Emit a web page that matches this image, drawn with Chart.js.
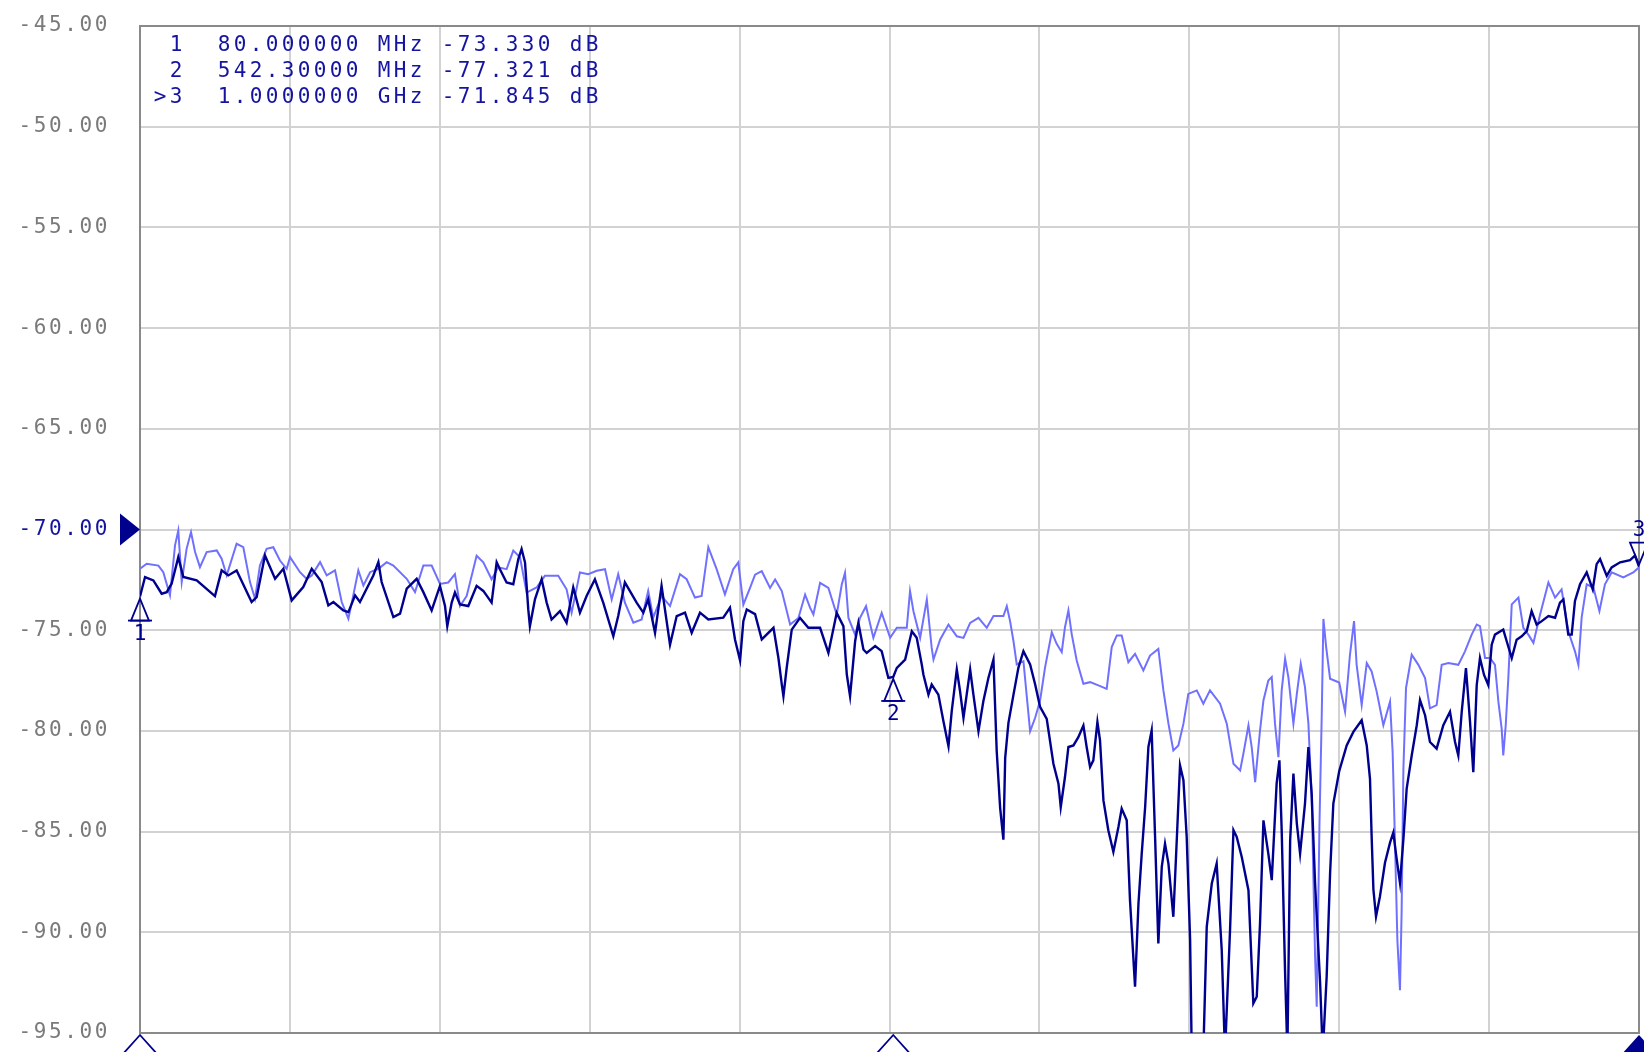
<!DOCTYPE html>
<html>
<head>
<meta charset="utf-8">
<script src="https://cdn.jsdelivr.net/npm/chart.js@4.4.1/dist/chart.umd.min.js"></script>
<style>
  html, body { margin: 0; padding: 0; background: #fff; }
  canvas { display: block; }
</style>
</head>
<body>
<canvas id="trace_chart" width="1644" height="1052"></canvas>
<script>
// Sweep 80 MHz .. 1 GHz, values in dB
const startMHz = 80;
const stopMHz = 1000;
const divisions = 10;
const refLevel = -70;

const darkFreq = [80.0, 83.1, 88.2, 93.3, 96.4, 99.4, 103.5, 106.6, 114.8, 126.0, 130.1, 134.2, 139.3, 148.5, 151.6, 156.7, 162.9, 168.0, 173.1, 180.2,
  185.4, 191.5, 195.6, 198.7, 204.8, 207.9, 212.0, 215.0, 219.1, 223.2, 226.3, 228.3, 235.5, 239.6, 243.7, 249.8, 253.9, 259.0, 264.1, 267.2,
  268.6, 271.3, 273.3, 276.4, 281.5, 286.6, 290.7, 295.8, 298.9, 300.9, 305.0, 309.1, 312.2, 314.2, 316.3, 318.3, 319.3, 322.4, 326.5, 329.6,
  332.6, 337.8, 341.8, 345.9, 350.0, 354.1, 359.2, 364.3, 370.5, 373.5, 377.6, 384.8, 388.9, 391.9, 396.1, 400.1, 405.3, 409.4, 414.5, 418.6,
  423.7, 428.8, 438.0, 442.1, 445.2, 448.3, 450.3, 452.4, 457.5, 461.6, 468.8, 471.8, 473.9, 474.9, 476.9, 480.0, 485.1, 490.2, 497.4, 502.5,
  507.6, 511.7, 513.8, 515.8, 518.9, 520.9, 524.0, 526.0, 531.2, 535.2, 539.3, 542.3, 544.5, 549.6, 553.7, 556.7, 559.8, 560.8, 563.9, 565.9,
  570.0, 573.1, 576.2, 578.2, 581.3, 583.3, 585.4, 589.5, 591.5, 594.6, 597.6, 600.7, 603.8, 605.8, 607.9, 609.9, 611.0, 613.0, 616.1, 619.1,
  622.2, 626.3, 629.4, 632.4, 636.5, 640.6, 643.7, 645.1, 647.7, 649.8, 652.9, 655.9, 659.0, 661.0, 663.1, 665.1, 667.6, 669.2, 671.3, 674.3,
  677.4, 680.5, 682.5, 685.6, 687.6, 690.7, 692.8, 694.8, 696.9, 698.9, 700.9, 703.0, 705.0, 707.1, 709.1, 711.2, 714.2, 716.3, 718.3, 720.4,
  722.4, 724.5, 725.5, 732.6, 734.7, 737.8, 740.8, 743.9, 745.9, 749.0, 751.1, 753.1, 756.2, 760.3, 763.3, 765.4, 767.4, 769.5, 772.5, 774.6,
  777.6, 779.3, 780.7, 782.8, 784.2, 785.9, 787.9, 790.0, 792.0, 795.0, 797.1, 799.1, 801.2, 804.3, 805.9, 808.3, 810.4, 812.4, 816.0, 820.6,
  824.7, 829.8, 832.9, 834.9, 835.9, 837.0, 838.6, 841.0, 844.1, 847.2, 849.2, 851.3, 853.3, 855.4, 857.4, 860.5, 863.6, 865.6, 868.7, 871.7,
  875.8, 879.9, 884.0, 887.1, 889.1, 891.2, 893.8, 896.3, 898.3, 900.4, 902.4, 904.9, 907.5, 909.6, 911.6, 916.7, 918.8, 921.9, 924.9, 928.0,
  931.1, 934.1, 937.2, 940.3, 944.4, 948.5, 951.5, 953.6, 956.6, 958.7, 960.7, 963.8, 967.9, 971.6, 974.0, 976.1, 980.2, 983.2, 988.4, 994.5,
  997.5, 1000.0];
const darkDb = [-73.33, -72.36, -72.53, -73.19, -73.11, -72.69, -71.37, -72.36, -72.53, -73.31, -72.03, -72.28, -72.03, -73.60, -73.36, -71.29, -72.45, -71.95, -73.52, -72.86,
  -71.95, -72.61, -73.77, -73.60, -74.02, -74.10, -73.27, -73.60, -72.94, -72.28, -71.62, -72.61, -74.35, -74.18, -72.94, -72.45, -73.11, -74.02, -72.80, -73.80,
  -74.80, -73.63, -73.13, -73.72, -73.80, -72.80, -73.05, -73.63, -71.63, -71.97, -72.63, -72.72, -71.47, -70.97, -71.63, -73.97, -74.80, -73.47, -72.47, -73.63,
  -74.47, -74.05, -74.63, -72.88, -74.13, -73.30, -72.47, -73.63, -75.30, -74.30, -72.63, -73.63, -74.13, -73.47, -75.13, -72.80, -75.72, -74.30, -74.13, -75.13,
  -74.13, -74.47, -74.38, -73.88, -75.47, -76.50, -74.55, -73.97, -74.20, -75.46, -74.88, -76.37, -77.70, -78.28, -76.87, -74.97, -74.39, -74.88, -74.88, -76.13,
  -74.14, -74.80, -77.20, -78.28, -75.55, -74.64, -75.96, -76.13, -75.79, -76.04, -77.37, -77.32, -76.87, -76.46, -75.05, -75.38, -76.70, -77.20, -78.20, -77.70,
  -78.20, -79.52, -80.76, -79.02, -76.95, -78.03, -79.35, -76.95, -78.20, -80.02, -78.53, -77.37, -76.46, -81.00, -83.82, -85.40, -81.34, -79.60, -78.20, -76.87,
  -76.04, -76.70, -77.70, -78.80, -79.40, -81.63, -82.62, -83.78, -82.29, -80.80, -80.72, -80.31, -79.73, -80.80, -81.79, -81.46, -79.56, -80.47, -83.45, -84.93,
  -86.01, -84.77, -83.86, -84.44, -88.40, -92.70, -88.57, -86.09, -83.78, -80.80, -79.98, -85.26, -90.55, -86.75, -85.60, -86.59, -89.23, -85.43, -81.71, -82.45,
  -85.26, -90.39, -96.00, -96.00, -89.73, -87.58, -86.59, -90.88, -96.00, -89.90, -84.93, -85.26, -86.26, -87.91, -93.53, -93.20, -89.56, -84.44, -86.09, -87.41,
  -82.62, -81.46, -84.93, -92.04, -96.00, -85.43, -82.12, -84.60, -86.09, -83.61, -80.80, -83.12, -87.58, -92.54, -96.00, -92.21, -87.08, -83.61, -82.00, -80.72,
  -80.05, -79.47, -80.72, -82.38, -85.22, -87.88, -89.22, -88.22, -86.55, -85.55, -85.05, -86.38, -87.55, -85.38, -82.88, -81.22, -79.72, -78.47, -79.22, -80.55,
  -80.88, -79.72, -79.05, -80.55, -81.22, -79.05, -76.88, -79.55, -82.05, -77.72, -76.38, -77.22, -77.72, -75.72, -75.22, -74.97, -75.55, -76.38, -75.47, -75.30,
  -75.05, -74.05, -74.72, -74.55, -74.30, -74.38, -73.63, -73.47, -75.22, -75.22, -73.55, -72.72, -72.13, -72.97, -71.72, -71.47, -72.30, -71.88, -71.63, -71.52,
  -71.30, -71.845];

const lightFreq = [80.0, 84.1, 91.3, 94.3, 98.4, 101.5, 103.5, 105.6, 108.6, 111.3, 113.8, 116.8, 120.9, 127.1, 130.1, 133.2, 139.3, 143.4, 147.5, 150.6,
  153.6, 157.7, 161.8, 165.9, 170.0, 172.1, 178.2, 182.3, 185.4, 190.5, 194.6, 199.7, 203.8, 207.9, 210.9, 214.0, 217.1, 221.2, 226.3, 231.4,
  235.5, 243.7, 248.8, 253.9, 259.0, 264.1, 269.2, 273.3, 276.4, 280.5, 286.6, 290.7, 295.8, 299.9, 305.0, 309.1, 313.2, 317.3, 323.4, 328.5,
  336.7, 341.8, 344.9, 350.0, 355.1, 360.3, 365.4, 369.5, 373.5, 377.6, 382.8, 387.9, 391.9, 395.0, 400.1, 405.3, 411.4, 415.5, 420.6, 424.7,
  428.8, 433.9, 439.0, 444.1, 447.2, 450.3, 454.4, 457.5, 461.6, 466.7, 469.8, 473.9, 479.0, 484.1, 488.2, 491.3, 493.3, 497.4, 502.5, 507.6,
  510.7, 512.7, 514.8, 518.9, 521.9, 525.6, 530.1, 535.2, 540.4, 544.5, 550.6, 552.6, 554.7, 558.8, 562.9, 565.9, 567.0, 571.1, 576.2, 581.3,
  585.4, 589.5, 594.6, 599.7, 603.8, 609.9, 612.0, 614.0, 616.1, 618.1, 622.2, 626.3, 629.4, 632.4, 635.5, 639.6, 642.6, 645.7, 647.7, 649.8,
  651.8, 654.9, 659.0, 663.1, 668.2, 673.3, 676.4, 679.5, 682.5, 686.6, 690.7, 695.8, 699.9, 705.0, 708.1, 711.2, 714.2, 717.3, 720.4, 723.4,
  728.6, 732.6, 736.7, 742.9, 747.0, 751.1, 755.2, 757.2, 760.3, 762.3, 764.4, 767.4, 769.5, 772.5, 774.6, 776.6, 778.7, 780.7, 782.8, 784.8,
  787.9, 790.0, 792.4, 795.0, 797.1, 799.1, 801.2, 802.2, 803.9, 805.3, 806.3, 808.0, 810.4, 816.0, 819.6, 822.6, 825.1, 826.7, 829.8, 832.9,
  835.9, 839.0, 843.1, 847.2, 848.8, 850.3, 851.7, 853.3, 854.3, 855.4, 857.0, 860.5, 864.6, 868.7, 871.7, 875.8, 878.9, 883.0, 889.1, 893.2,
  897.3, 900.4, 902.4, 905.5, 908.6, 911.6, 913.7, 915.7, 916.7, 918.2, 919.8, 921.9, 926.0, 929.0, 932.1, 935.2, 939.3, 944.4, 948.5, 952.5,
  956.6, 960.7, 962.8, 964.8, 967.9, 972.0, 975.7, 979.1, 983.2, 990.4, 996.5, 1000.0];
const lightDb = [-71.95, -71.70, -71.79, -72.12, -73.27, -70.79, -70.05, -72.61, -70.96, -70.13, -71.12, -71.87, -71.12, -71.04, -71.45, -72.28, -70.71, -70.88, -72.61, -73.44,
  -71.79, -70.96, -70.88, -71.54, -71.95, -71.37, -72.12, -72.45, -72.28, -71.62, -72.28, -72.03, -73.60, -74.43, -73.27, -72.03, -72.78, -72.12, -71.95, -71.62,
  -71.79, -72.45, -73.11, -71.79, -71.79, -72.70, -72.63, -72.22, -73.80, -73.30, -71.30, -71.63, -72.47, -71.88, -71.97, -71.05, -71.38, -73.13, -72.88, -72.30,
  -72.30, -72.97, -74.13, -72.13, -72.22, -72.05, -71.97, -73.47, -72.22, -73.63, -74.63, -74.47, -73.05, -74.38, -73.30, -73.80, -72.22, -72.47, -73.38, -73.30,
  -70.88, -71.97, -73.22, -71.97, -71.63, -73.73, -72.90, -72.24, -72.07, -72.90, -72.48, -73.06, -74.72, -74.39, -73.23, -73.89, -74.22, -72.65, -72.90, -74.22,
  -72.73, -72.15, -74.39, -75.22, -74.39, -73.81, -75.38, -74.14, -75.38, -74.88, -74.88, -73.06, -74.06, -75.38, -73.48, -75.88, -76.46, -75.46, -74.72, -75.30,
  -75.38, -74.64, -74.39, -74.88, -74.30, -74.30, -73.81, -74.55, -75.55, -76.70, -76.54, -80.02, -79.35, -78.50, -76.83, -75.10, -75.68, -76.09, -74.85, -74.02,
  -75.18, -76.50, -77.66, -77.58, -77.74, -77.91, -75.84, -75.26, -75.26, -76.59, -76.17, -77.00, -76.26, -75.93, -77.99, -79.64, -80.97, -80.72, -79.64, -78.16,
  -77.99, -78.65, -77.99, -78.65, -79.64, -81.63, -81.96, -81.13, -79.73, -80.80, -82.54, -79.98, -78.49, -77.50, -77.33, -79.64, -81.30, -77.99, -76.42, -77.33,
  -79.64, -78.16, -76.67, -77.83, -79.64, -83.28, -91.21, -93.69, -84.60, -79.15, -74.44, -75.84, -77.41, -77.60, -79.05, -76.22, -74.55, -76.72, -78.72, -76.63,
  -77.05, -78.05, -79.72, -78.55, -81.05, -85.72, -90.38, -92.88, -89.05, -81.88, -77.88, -76.22, -76.72, -77.38, -78.88, -78.72, -76.72, -76.63, -76.72, -76.05,
  -75.22, -74.72, -74.80, -76.38, -76.38, -76.72, -78.55, -79.88, -81.22, -79.72, -77.38, -73.72, -73.38, -74.88, -75.22, -75.63, -74.22, -72.63, -73.38, -72.97,
  -75.05, -76.05, -76.72, -74.38, -72.72, -72.88, -74.05, -72.72, -72.13, -72.38, -72.13, -71.88];

// Markers sit on the dark trace, the last one is active
const markerNames = ["1", "2", "3"];
const markerFreq = [80, 542.3, 1000];
const markerDb = [-73.33, -77.321, -71.845];
const activeMarker = 2;

const NAVY = "#00008f";
const TEXT_BLUE = "#1414a0";
const LIGHT = "#7070ff";
const GRID = "#d2d2d2";
const FRAME = "#8a8a8a";
const LABEL_GREY = "#7a7a7a";

const fmtFreq = (mhz) => (mhz >= 1000 ? (mhz / 1000).toPrecision(8) + " GHz" : mhz.toPrecision(8) + " MHz");

// Grid on every division, starting at the sweep start
const xGrid = [];
for (let i = 0; i <= divisions; i++) {
  xGrid.push(startMHz + ((stopMHz - startMHz) * i) / divisions);
}

// Frame round the plot area, under the traces
const framePlugin = {
  id: "frame",
  beforeDraw(chart) {
    chart.ctx.letterSpacing = "2.6px"; // wide bitmap look for the tick labels
  },
  beforeDatasetsDraw(chart) {
    const { ctx, chartArea } = chart;
    ctx.save();
    ctx.letterSpacing = "0px";
    ctx.strokeStyle = FRAME;
    ctx.lineWidth = 2;
    ctx.strokeRect(chartArea.left, chartArea.top, chartArea.right - chartArea.left, chartArea.bottom - chartArea.top);
    ctx.restore();
  },
};

const drawTriangle = (ctx, x, tipY, baseY, halfW, filled) => {
  ctx.beginPath();
  ctx.moveTo(x, tipY);
  ctx.lineTo(x - halfW, baseY);
  ctx.lineTo(x + halfW, baseY);
  ctx.closePath();
  if (filled) ctx.fill();
  else ctx.stroke();
};

// Marker symbols, marker readout and reference level arrow
const markerPlugin = {
  id: "markers",
  afterDatasetsDraw(chart) {
    const { ctx, chartArea, scales } = chart;
    const xs = scales.x;
    const ys = scales.y;
    ctx.save();
    ctx.letterSpacing = "0px";
    ctx.strokeStyle = NAVY;
    ctx.fillStyle = NAVY;
    ctx.lineWidth = 1.8;
    ctx.font = "21px 'DejaVu Sans Mono'";
    ctx.textAlign = "center";
    ctx.textBaseline = "middle";

    markerNames.forEach((name, i) => {
      const x = xs.getPixelForValue(markerFreq[i]);
      const y = ys.getPixelForValue(markerDb[i]);
      if (i === activeMarker) {
        drawTriangle(ctx, x, y - 2, y - 24, 9, false);
        ctx.fillText(name, x, y - 36);
      } else {
        drawTriangle(ctx, x, y + 2, y + 24, 9, false);
        ctx.beginPath();
        ctx.moveTo(x - 12, y + 24);
        ctx.lineTo(x + 12, y + 24);
        ctx.stroke();
        ctx.fillText(name, x, y + 38);
      }
      // position tag under the frequency axis
      drawTriangle(ctx, x, chartArea.bottom + 2, chartArea.bottom + 22, 18, i === activeMarker);
    });

    // reference level arrow
    const ry = ys.getPixelForValue(refLevel);
    ctx.beginPath();
    ctx.moveTo(chartArea.left, ry);
    ctx.lineTo(chartArea.left - 20, ry - 16);
    ctx.lineTo(chartArea.left - 20, ry + 16);
    ctx.closePath();
    ctx.fill();

    // marker readout, one character per 16px cell
    ctx.fillStyle = TEXT_BLUE;
    markerNames.forEach((name, i) => {
      const tag = (i === activeMarker ? ">" : " ") + name;
      const line = tag + "  " + fmtFreq(markerFreq[i]) + " " + markerDb[i].toFixed(3) + " dB";
      const y = chartArea.top + 20 + i * 26;
      for (let c = 0; c < line.length; c++) {
        ctx.fillText(line[c], chartArea.left + 12 + c * 16 + 8, y);
      }
    });
    ctx.restore();
  },
};

const canvas = document.getElementById("trace_chart");
new Chart(canvas, {
  type: "line",
  data: {
    datasets: [
      {
        label: "dark",
        data: darkFreq.map((f, i) => ({ x: f, y: darkDb[i] })),
        borderColor: NAVY,
        borderWidth: 2.4,
        pointRadius: 0,
        tension: 0,
      },
      {
        label: "light",
        data: lightFreq.map((f, i) => ({ x: f, y: lightDb[i] })),
        borderColor: LIGHT,
        borderWidth: 2,
        pointRadius: 0,
        tension: 0,
      },
    ],
  },
  options: {
    responsive: false,
    animation: false,
    devicePixelRatio: 1,
    layout: { padding: { top: 26, right: 5, bottom: 19, left: 0 } },
    plugins: {
      legend: { display: false },
      tooltip: { enabled: false },
    },
    scales: {
      x: {
        type: "linear",
        min: startMHz,
        max: stopMHz,
        afterBuildTicks: (scale) => {
          scale.ticks = xGrid.map((v) => ({ value: v }));
        },
        afterFit: (scale) => {
          scale.height = 0;
        },
        ticks: { display: false },
        grid: { color: GRID, lineWidth: 2, drawTicks: false },
        border: { color: FRAME, width: 2 },
      },
      y: {
        min: -95,
        max: -45,
        afterFit: (scale) => {
          // tick padding would otherwise push the plot area in from top and bottom
          scale.width = 140;
          scale.paddingTop = 0;
          scale.paddingBottom = 0;
        },
        ticks: {
          stepSize: 5,
          padding: 30,
          callback: (v) => Number(v).toFixed(2),
          color: (c) => (c.tick && c.tick.value === refLevel ? TEXT_BLUE : LABEL_GREY),
          font: { family: "'DejaVu Sans Mono'", size: 21 },
        },
        grid: { color: GRID, lineWidth: 2, drawTicks: false },
        border: { color: FRAME, width: 2 },
      },
    },
  },
  plugins: [framePlugin, markerPlugin],
});
</script>
</body>
</html>
